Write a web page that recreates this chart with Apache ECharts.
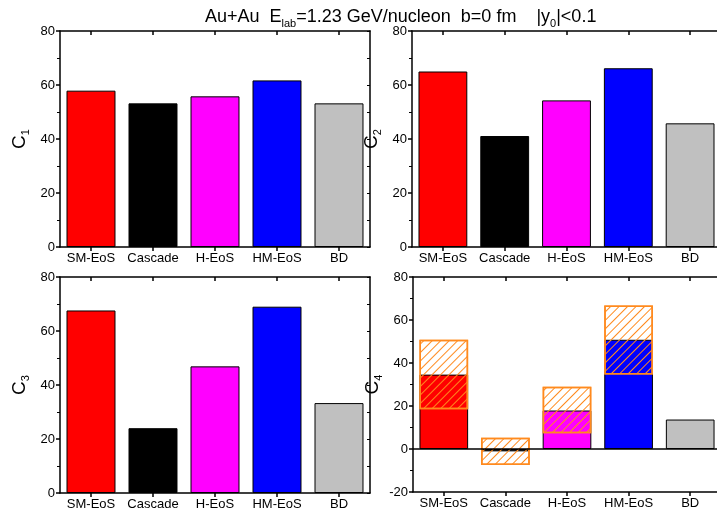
<!DOCTYPE html>
<html>
<head>
<meta charset="utf-8">
<script src="https://cdn.jsdelivr.net/npm/echarts@6/dist/echarts.min.js"></script>
<style>
  html, body { margin: 0; padding: 0; background: #fff; }
  #main { width: 717px; height: 515px; }
</style>
</head>
<body>
<div id="main"></div>
<script>
// categories and values
var categories = ['SM-EoS', 'Cascade', 'H-EoS', 'HM-EoS', 'BD'];
var c1 = [57.9, 53.2, 55.8, 61.7, 53.2];
var c2 = [65.0, 41.1, 54.3, 66.2, 45.8];
var c3 = [67.6, 24.0, 46.9, 69.0, 33.3];
var c4 = [34.6, -1.1, 17.9, 50.8, 13.7];
// hatched band of C4 (low / high)
var c4Low = [18.5, -7.4, 7.3, 34.6, null];
var c4High = [50.8, 5.2, 28.9, 66.8, null];

var barColors = ['#ff0000', '#000000', '#ff00ff', '#0000ff', '#c0c0c0'];
var FONT = 'Liberation Sans, Arial, sans-serif';

// grid boxes (left, top, width, height)
var grids = [
    { left: 60, top: 31, width: 310, height: 216 },
    { left: 412, top: 31, width: 309, height: 216 },
    { left: 60, top: 277, width: 310, height: 216 },
    { left: 413, top: 277, width: 308, height: 215 }
];
var names = ['1', '2', '3', '4'];

var lineBlack = { color: '#000', width: 1.5 };

var xAxes = [], yAxes = [];
grids.forEach(function (g, i) {
    var ymin = i === 3 ? -20 : 0;
    // bottom
    xAxes.push({
        type: 'category', gridIndex: i, position: 'bottom', data: categories,
        boundaryGap: true,
        axisLine: { show: true, onZero: false, lineStyle: lineBlack },
        axisTick: { show: true, alignWithLabel: true, inside: false, length: 4, lineStyle: lineBlack },
        axisLabel: { show: true, interval: 0, color: '#000', fontSize: 13, fontFamily: FONT, margin: 5 },
        splitLine: { show: false }
    });
    // top
    xAxes.push({
        type: 'category', gridIndex: i, position: 'top', data: categories,
        boundaryGap: true,
        axisLine: { show: true, onZero: false, lineStyle: lineBlack },
        axisTick: { show: true, interval: 0, alignWithLabel: true, inside: true, length: 4, lineStyle: lineBlack },
        axisLabel: { show: false, interval: 0 },
        splitLine: { show: false }
    });
    // left
    yAxes.push({
        type: 'value', gridIndex: i, position: 'left', min: ymin, max: 80, interval: 20,
        name: '{c|C}{s|' + names[i] + '}',
        nameLocation: 'middle', nameRotate: 90, nameGap: 29,
        nameTextStyle: {
            color: '#000',
            rich: {
                c: { fontSize: 19, fontFamily: FONT, color: '#000', lineHeight: 22 },
                s: { fontSize: 11, fontFamily: FONT, color: '#000', verticalAlign: 'bottom' }
            }
        },
        axisLine: { show: true, onZero: false, lineStyle: lineBlack },
        axisTick: { show: true, inside: false, length: 4, lineStyle: lineBlack },
        minorTick: { show: true, splitNumber: 2, length: 3, lineStyle: { color: '#000', width: 1 } },
        axisLabel: { show: true, color: '#000', fontSize: 13, fontFamily: FONT, margin: 5 },
        splitLine: { show: false }
    });
    // right
    yAxes.push({
        type: 'value', gridIndex: i, position: 'right', min: ymin, max: 80, interval: 10,
        axisLine: { show: true, onZero: false, lineStyle: lineBlack },
        axisTick: { show: true, inside: true, length: 3, lineStyle: { color: '#000', width: 1 } },
        axisLabel: { show: false },
        splitLine: { show: false }
    });
});

function solidBar(i, data) {
    return {
        type: 'bar', xAxisIndex: i * 2, yAxisIndex: i * 2, data: data,
        barCategoryGap: '21%', barGap: '-100%',
        itemStyle: {
            color: function (p) { return barColors[p.dataIndex]; },
            borderColor: '#000', borderWidth: 1
        },
        silent: true
    };
}

var series = [
    solidBar(0, c1),
    solidBar(1, c2),
    solidBar(2, c3)
];

var c4Solid = solidBar(3, c4);
c4Solid.markLine = {
    silent: true, symbol: 'none', label: { show: false },
    lineStyle: { color: '#000', width: 1.5, type: 'solid' },
    data: [{ yAxis: 0 }]
};
series.push(c4Solid);

// transparent base of the hatched band
series.push({
    type: 'bar', xAxisIndex: 6, yAxisIndex: 6, stack: 'band', stackStrategy: 'all',
    data: c4Low, barCategoryGap: '21%', barGap: '-100%',
    itemStyle: { color: 'rgba(0,0,0,0)' }, silent: true
});
// hatched band
series.push({
    type: 'bar', xAxisIndex: 6, yAxisIndex: 6, stack: 'band', stackStrategy: 'all',
    data: c4High.map(function (h, k) { return h == null ? null : +(h - c4Low[k]).toFixed(2); }),
    barCategoryGap: '21%', barGap: '-100%',
    itemStyle: {
        color: 'rgba(255,255,255,0)',
        borderColor: '#ff8a1e', borderWidth: 1.5,
        decal: {
            symbol: 'rect', symbolSize: 1,
            dashArrayX: [1, 0], dashArrayY: [1, 4.2],
            rotation: -Math.PI / 4,
            color: '#ff8a1e'
        }
    },
    silent: true
});

var chart = echarts.init(document.getElementById('main'), null, { renderer: 'canvas' });
chart.setOption({
    animation: false,
    backgroundColor: '#fff',
    title: {
        text: '{t|Au+Au  E}{s|lab}{t|=1.23 GeV/nucleon  b=0 fm    |y}{s|0}{t||<0.1}',
        left: 200, top: 1,
        textStyle: {
            fontWeight: 'normal',
            rich: {
                t: { fontSize: 18, fontFamily: FONT, fontWeight: 'normal', color: '#000', lineHeight: 23 },
                s: { fontSize: 11, fontFamily: FONT, fontWeight: 'normal', color: '#000', verticalAlign: 'bottom' }
            }
        }
    },
    grid: grids.map(function (g) {
        return { left: g.left, top: g.top, width: g.width, height: g.height, outerBoundsMode: 'none', containLabel: false };
    }),
    xAxis: xAxes,
    yAxis: yAxes,
    series: series
});
</script>
</body>
</html>
